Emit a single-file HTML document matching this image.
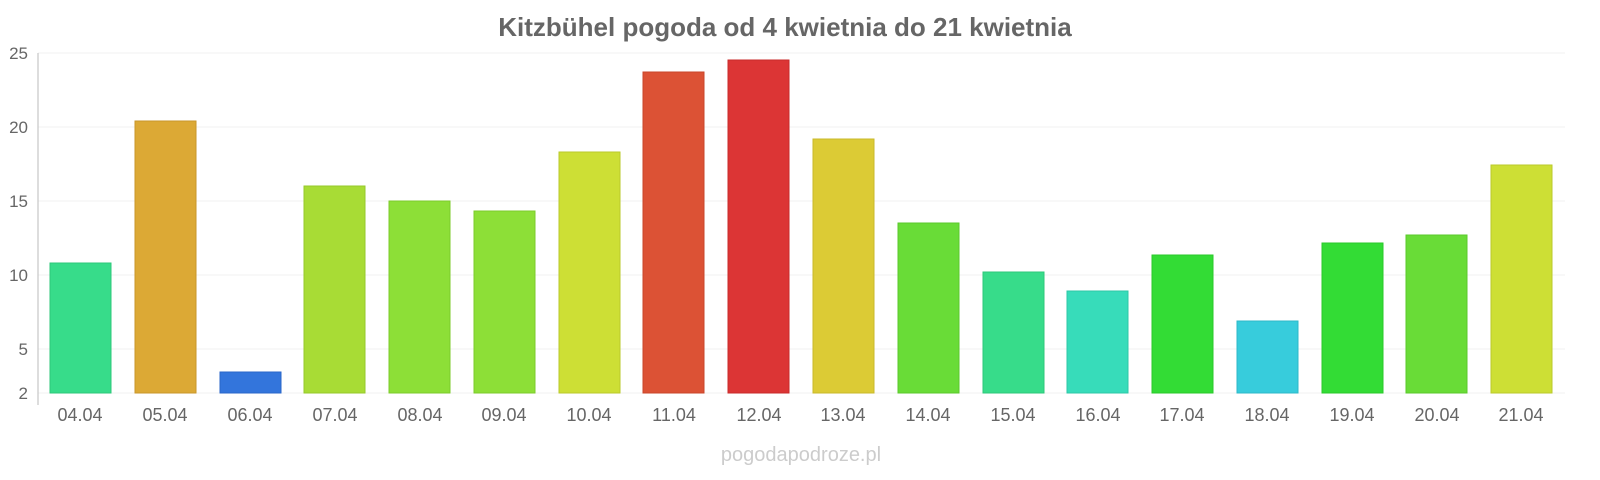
<!DOCTYPE html>
<html><head><meta charset="utf-8"><style>
html,body{margin:0;padding:0;background:#fff;overflow:hidden;width:1600px;height:480px;}
svg{display:block;font-family:"Liberation Sans",sans-serif;}
</style></head><body>
<svg width="1600" height="480" viewBox="0 0 1600 480">
<text x="785" y="36" text-anchor="middle" font-size="26" font-weight="bold" fill="#666">Kitzbühel pogoda od 4 kwietnia do 21 kwietnia</text>
<g stroke="#f2f2f2" stroke-width="1">
<line x1="38" x2="1565" y1="53" y2="53"/><line x1="38" x2="1565" y1="127" y2="127"/>
<line x1="38" x2="1565" y1="201" y2="201"/><line x1="38" x2="1565" y1="275" y2="275"/>
<line x1="38" x2="1565" y1="349" y2="349"/><line x1="38" x2="1565" y1="393" y2="393"/>
</g>
<line x1="38" x2="38" y1="53" y2="405" stroke="#bbb"/>
<g font-size="17" fill="#666" text-anchor="end">
<text x="28" y="59">25</text><text x="28" y="133">20</text><text x="28" y="207">15</text>
<text x="28" y="281">10</text><text x="28" y="355">5</text><text x="28" y="399">2</text>
</g>
<g stroke-width="1" fill-opacity="1">
<rect x="50" y="263" width="61" height="130" fill="#37dc8a" stroke="#2cc77a"/>
<rect x="135" y="121" width="61" height="272" fill="#dca935" stroke="#c9962a"/>
<rect x="220" y="372" width="61" height="21" fill="#3375dc" stroke="#2a66c9"/>
<rect x="304" y="186" width="61" height="207" fill="#a8dc35" stroke="#96c92a"/>
<rect x="389" y="201" width="61" height="192" fill="#8ddf37" stroke="#7ccb2b"/>
<rect x="474" y="211" width="61" height="182" fill="#8ddf37" stroke="#7ccb2b"/>
<rect x="559" y="152" width="61" height="241" fill="#cddf35" stroke="#baca2a"/>
<rect x="643" y="72" width="61" height="321" fill="#dc5235" stroke="#c9452a"/>
<rect x="728" y="60" width="61" height="333" fill="#dc3535" stroke="#c92a2a"/>
<rect x="813" y="139" width="61" height="254" fill="#dccb35" stroke="#c9b82a"/>
<rect x="898" y="223" width="61" height="170" fill="#69dc37" stroke="#5ac92b"/>
<rect x="983" y="272" width="61" height="121" fill="#37dc8a" stroke="#2cc77a"/>
<rect x="1067" y="291" width="61" height="102" fill="#37dcba" stroke="#2cc7a7"/>
<rect x="1152" y="255" width="61" height="138" fill="#33dc35" stroke="#29c92a"/>
<rect x="1237" y="321" width="61" height="72" fill="#37ccdc" stroke="#2cb9c9"/>
<rect x="1322" y="243" width="61" height="150" fill="#33dc35" stroke="#29c92a"/>
<rect x="1406" y="235" width="61" height="158" fill="#69dc37" stroke="#5ac92b"/>
<rect x="1491" y="165" width="61" height="228" fill="#cddf35" stroke="#baca2a"/>
</g>
<g font-size="18" fill="#666" text-anchor="middle">
<text x="80" y="421">04.04</text><text x="165" y="421">05.04</text><text x="250" y="421">06.04</text>
<text x="335" y="421">07.04</text><text x="420" y="421">08.04</text><text x="504" y="421">09.04</text>
<text x="589" y="421">10.04</text><text x="674" y="421">11.04</text><text x="759" y="421">12.04</text>
<text x="843" y="421">13.04</text><text x="928" y="421">14.04</text><text x="1013" y="421">15.04</text>
<text x="1098" y="421">16.04</text><text x="1182" y="421">17.04</text><text x="1267" y="421">18.04</text>
<text x="1352" y="421">19.04</text><text x="1437" y="421">20.04</text><text x="1521" y="421">21.04</text>
</g>
<text x="801" y="461" text-anchor="middle" font-size="20" fill="#ccc">pogodapodroze.pl</text>
</svg>
</body></html>
